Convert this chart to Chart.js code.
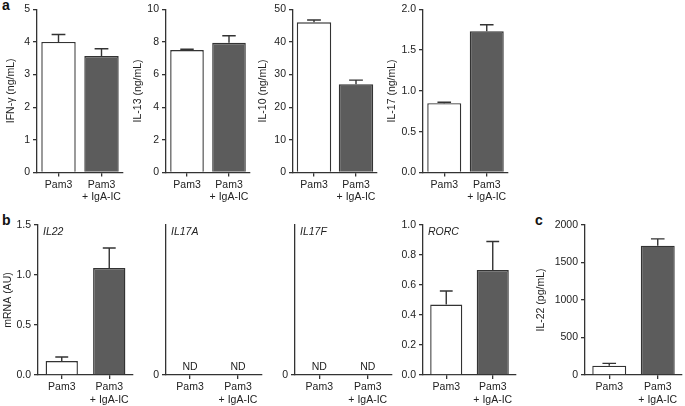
<!DOCTYPE html>
<html>
<head>
<meta charset="utf-8">
<script src="https://cdn.jsdelivr.net/npm/chart.js@4/dist/chart.umd.min.js"></script>
<style>
  html, body { margin: 0; padding: 0; background: #fff; }
  #wrap { position: relative; width: 685px; height: 406px; overflow: hidden; }
  canvas { position: absolute; }
  .tag { position: absolute; font: bold 14px "Liberation Sans", Arial, sans-serif; color: #111; }
</style>
</head>
<body>
<div id="wrap">
  <div class="tag" style="left:2px;top:-3px">a</div>
  <div class="tag" style="left:2px;top:212px">b</div>
  <div class="tag" style="left:535px;top:212px">c</div>
</div>
<script>
// 카테고리 (공통)
const groups = ['Pam3', ['Pam3', '+ IgA-IC']];

// a) 사이토카인 (ng/mL)
const ifngMean = [4.0, 3.57];
const ifngSem  = [0.23, 0.22];
const il13Mean = [7.5, 7.95];
const il13Sem  = [0.05, 0.43];
const il10Mean = [46.0, 27.0];
const il10Sem  = [0.7, 1.3];
const il17Mean = [0.85, 1.73];
const il17Sem  = [0.01, 0.08];

// b) mRNA (AU)
const il22mRNA    = [0.14, 1.07];
const il22mRNASem = [0.04, 0.20];
const il17aMRNA   = [null, null];   // ND
const il17fMRNA   = [null, null];   // ND
const rorcMRNA    = [0.47, 0.70];
const rorcSem     = [0.09, 0.19];

// c) IL-22 (pg/mL)
const il22Prot    = [125, 1725];
const il22ProtSem = [30, 90];

const FONT = '"Liberation Sans", Arial, Helvetica, sans-serif';
const FS = 10.5;
const INK = '#333';
const barFill = ['#ffffff', '#5c5c5c'];

// 에러바 (위쪽만)
const errorBars = {
  id: 'errorBars',
  afterDatasetsDraw(chart) {
    const sem = chart.options.plugins.errorBars.sem;
    if (!sem) return;
    const ctx = chart.ctx;
    const meta = chart.getDatasetMeta(0);
    const y = chart.scales.y;
    ctx.save();
    ctx.strokeStyle = INK;
    ctx.lineWidth = 1.4;
    meta.data.forEach((bar, i) => {
      const v = chart.data.datasets[0].data[i];
      if (v == null) return;
      const top = y.getPixelForValue(v + sem[i]);
      const half = bar.width * 0.2;
      ctx.beginPath();
      ctx.moveTo(bar.x, bar.y);
      ctx.lineTo(bar.x, top);
      ctx.moveTo(bar.x - half, top);
      ctx.lineTo(bar.x + half, top);
      ctx.stroke();
    });
    ctx.restore();
  }
};

// 유전자 이름 + ND 표시
const panelText = {
  id: 'panelText',
  afterDraw(chart) {
    const o = chart.options.plugins.panelText;
    const ctx = chart.ctx;
    const a = chart.chartArea;
    ctx.save();
    ctx.fillStyle = '#222';
    if (o.gene) {
      ctx.font = 'italic ' + FS + 'px ' + FONT;
      ctx.textAlign = 'left';
      ctx.textBaseline = 'top';
      ctx.fillText(o.gene, a.left + 5, a.top + 2);
    }
    if (o.nd) {
      ctx.font = FS + 'px ' + FONT;
      ctx.textAlign = 'center';
      ctx.textBaseline = 'bottom';
      chart.data.labels.forEach((l, i) => {
        ctx.fillText('ND', chart.scales.x.getPixelForValue(i), a.bottom - 3);
      });
    }
    ctx.restore();
  }
};

function makePanel(p) {
  const wrap = document.getElementById('wrap');
  const cv = document.createElement('canvas');
  const left = p.left, width = p.right + 4 - left;
  const height = p.canvasBottom - p.canvasTop;
  cv.style.left = left + 'px';
  cv.style.top = p.canvasTop + 'px';
  cv.width = width; cv.height = height;
  cv.style.width = width + 'px'; cv.style.height = height + 'px';
  wrap.appendChild(cv);

  new Chart(cv.getContext('2d'), {
    type: 'bar',
    data: {
      labels: groups,
      datasets: [{
        data: p.data,
        backgroundColor: barFill,
        borderColor: INK,
        borderWidth: 1.4,
        barPercentage: p.barPct,
        categoryPercentage: 1
      }]
    },
    options: {
      responsive: false,
      animation: false,
      layout: { padding: { top: p.top - p.canvasTop, right: 4, left: 0, bottom: 0 } },
      plugins: {
        legend: { display: false },
        tooltip: { enabled: false },
        errorBars: { sem: p.sem },
        panelText: { gene: p.gene, nd: p.nd }
      },
      scales: {
        x: {
          offset: true,
          grid: { offset: false, drawOnChartArea: false, tickLength: 4, color: INK, lineWidth: 1.3 },
          border: { display: true, color: INK, width: 1.3 },
          ticks: { color: '#222', font: { family: FONT, size: FS }, padding: 2, maxRotation: 0, autoSkip: false },
          afterFit: s => { s.height = p.canvasBottom - p.bottom; }
        },
        y: {
          min: 0, max: p.max,
          grid: { drawOnChartArea: false, tickLength: 4, color: INK, lineWidth: 1.3 },
          border: { display: true, color: INK, width: 1.3 },
          ticks: {
            stepSize: p.step, color: '#222', font: { family: FONT, size: FS }, padding: 3,
            callback: v => p.dec ? v.toFixed(p.dec) : String(v)
          },
          afterBuildTicks: p.onlyZero ? (s => { s.ticks = [{ value: 0 }]; }) : undefined,
          title: {
            display: !!p.title, text: p.title || '', color: '#222',
            font: { family: FONT, size: FS }, padding: { top: 0, bottom: 0 }
          },
          afterFit: s => { s.width = p.axisX - left; }
        }
      }
    },
    plugins: [errorBars, panelText]
  });
}

// 패널 a
const rowA = { canvasTop: 0, canvasBottom: 205, top: 9, bottom: 172.5 };
makePanel({ ...rowA, left: 5, axisX: 37, right: 123, data: ifngMean, sem: ifngSem, max: 5, step: 1, title: 'IFN-γ (ng/mL)', barPct: 0.8 });
makePanel({ ...rowA, left: 132, axisX: 166, right: 250, data: il13Mean, sem: il13Sem, max: 10, step: 2, title: 'IL-13 (ng/mL)', barPct: 0.8 });
makePanel({ ...rowA, left: 257, axisX: 293, right: 377, data: il10Mean, sem: il10Sem, max: 50, step: 10, title: 'IL-10 (ng/mL)', barPct: 0.82 });
makePanel({ ...rowA, left: 386, axisX: 423, right: 508, data: il17Mean, sem: il17Sem, max: 2, step: 0.5, dec: 1, title: 'IL-17 (ng/mL)', barPct: 0.8 });

// 패널 b
const rowB = { canvasTop: 215, canvasBottom: 406, top: 225, bottom: 375 };
makePanel({ ...rowB, left: 2, axisX: 38, right: 133, data: il22mRNA, sem: il22mRNASem, max: 1.5, step: 0.5, dec: 1, title: 'mRNA (AU)', gene: 'IL22', barPct: 0.68 });
makePanel({ ...rowB, left: 140, axisX: 166, right: 262, data: il17aMRNA, max: 1, step: 1, onlyZero: true, gene: 'IL17A', nd: true, barPct: 0.68 });
makePanel({ ...rowB, left: 269, axisX: 295, right: 392, data: il17fMRNA, max: 1, step: 1, onlyZero: true, gene: 'IL17F', nd: true, barPct: 0.68 });
makePanel({ ...rowB, left: 396, axisX: 423, right: 516, data: rorcMRNA, sem: rorcSem, max: 1.0, step: 0.2, dec: 1, gene: 'RORC', barPct: 0.69 });

// 패널 c
makePanel({ ...rowB, left: 535, axisX: 585, right: 682, data: il22Prot, sem: il22ProtSem, max: 2000, step: 500, title: 'IL-22 (pg/mL)', barPct: 0.7 });
</script>
</body>
</html>
